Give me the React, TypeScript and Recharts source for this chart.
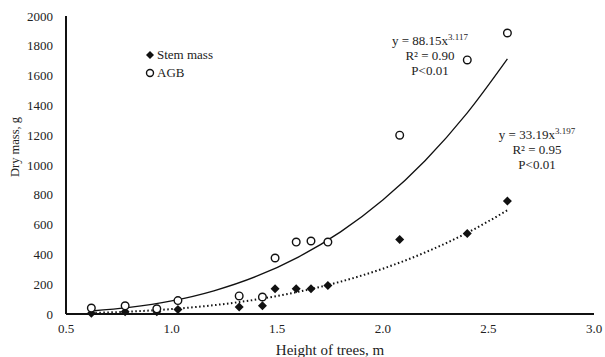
import {
  ComposedChart,
  Line,
  Scatter,
  XAxis,
  YAxis,
} from "recharts";

// measured points, x = tree height (m), y = dry mass (g)
const heights = [0.62, 0.78, 0.93, 1.03, 1.32, 1.43, 1.49, 1.59, 1.66, 1.74, 2.08, 2.4, 2.59];
const stemMass = [5, 15, 15, 30, 47, 56, 170, 170, 170, 192, 500, 541, 758];
const agbMass = [40, 55, 35, 90, 121, 114, 376, 483, 490, 483, 1200, 1705, 1886];

// power trend lines at a few heights
const fitHeights = [0.62, 0.8, 1.0, 1.2, 1.4, 1.6, 1.8, 2.0, 2.2, 2.4, 2.59];
const agbFit = [20, 44, 88, 156, 252, 382, 551, 765, 1029, 1350, 1712];
const stemFit = [7, 16, 33, 59, 97, 149, 217, 304, 413, 545, 696];

const xTicks = [0.5, 1.0, 1.5, 2.0, 2.5, 3.0];
const yTicks = [0, 200, 400, 600, 800, 1000, 1200, 1400, 1600, 1800, 2000];

const stemData = heights.map((x, i) => ({ x, y: stemMass[i] }));
const agbData = heights.map((x, i) => ({ x, y: agbMass[i] }));
const agbFitData = fitHeights.map((x, i) => ({ x, y: agbFit[i] }));
const stemFitData = fitHeights.map((x, i) => ({ x, y: stemFit[i] }));

const font = "'Liberation Serif', 'Times New Roman', serif";
const ink = "#222";

const Diamond = (p: any) => (
  <path
    d={`M${p.cx},${p.cy - 4.5} L${p.cx + 4.5},${p.cy} L${p.cx},${p.cy + 4.5} L${p.cx - 4.5},${p.cy} Z`}
    fill="#111"
  />
);

const Ring = (p: any) => (
  <circle cx={p.cx} cy={p.cy} r={3.8} fill="#fff" stroke="#111" strokeWidth={1.4} />
);

function LegendBox() {
  return (
    <div
      style={{
        position: "absolute",
        left: 145,
        top: 46,
        fontFamily: font,
        fontSize: 13,
        color: ink,
        lineHeight: "18px",
      }}
    >
      <div style={{ display: "flex", alignItems: "center" }}>
        <svg width={10} height={10} style={{ marginRight: 2 }}>
          <path d="M5,1 L9,5 L5,9 L1,5 Z" fill="#111" />
        </svg>
        Stem mass
      </div>
      <div style={{ display: "flex", alignItems: "center" }}>
        <svg width={10} height={10} style={{ marginRight: 2 }}>
          <circle cx={5} cy={5} r={3.5} fill="#fff" stroke="#111" strokeWidth={1.4} />
        </svg>
        AGB
      </div>
    </div>
  );
}

const noteStyle: React.CSSProperties = {
  position: "absolute",
  fontFamily: font,
  fontSize: 13,
  color: ink,
  textAlign: "center",
  lineHeight: "15px",
  width: 120,
};

export default function App() {
  return (
    <div style={{ position: "absolute", left: 0, top: 0, width: 605, height: 357, background: "#fff" }}>
      <ComposedChart
        width={605}
        height={357}
        margin={{ top: 16, right: 11, left: 0, bottom: 0 }}
      >
        <XAxis
          type="number"
          dataKey="x"
          domain={[0.5, 3]}
          ticks={xTicks}
          tickFormatter={(v: number) => v.toFixed(1)}
          tick={{ fontSize: 13, fill: ink, fontFamily: font }}
          tickLine={false}
          tickSize={0}
          tickMargin={10}
          axisLine={{ stroke: "#111", strokeWidth: 2 }}
          height={43}
          label={{
            value: "Height of trees, m",
            position: "insideBottom",
            offset: 2,
            style: { fontSize: 15, fill: ink, fontFamily: font },
          }}
        />
        <YAxis
          type="number"
          dataKey="y"
          domain={[0, 2000]}
          ticks={yTicks}
          tick={{ fontSize: 13, fill: ink, fontFamily: font }}
          tickLine={false}
          tickSize={0}
          tickMargin={13}
          axisLine={{ stroke: "#111", strokeWidth: 2 }}
          width={66}
        />
        <Line
          data={agbFitData}
          dataKey="y"
          type="monotone"
          stroke="#111"
          strokeWidth={1.3}
          dot={false}
          activeDot={false}
          legendType="none"
          isAnimationActive={false}
        />
        <Line
          data={stemFitData}
          dataKey="y"
          type="monotone"
          stroke="#111"
          strokeWidth={2}
          strokeDasharray="1.5 2.5"
          dot={false}
          activeDot={false}
          legendType="none"
          isAnimationActive={false}
        />
        <Scatter name="Stem mass" data={stemData} shape={Diamond} isAnimationActive={false} />
        <Scatter name="AGB" data={agbData} shape={Ring} isAnimationActive={false} />
      </ComposedChart>
      <svg width={30} height={357} style={{ position: "absolute", left: 0, top: 0 }}>
        <text
          x={15}
          y={147}
          transform="rotate(-90 15 147)"
          textAnchor="middle"
          dominantBaseline="central"
          fontFamily={font}
          fontSize={12.5}
          fill={ink}
        >
          Dry mass, g
        </text>
      </svg>
      <LegendBox />
      <div style={{ ...noteStyle, left: 370, top: 30 }}>
        y = 88.15x<sup style={{ fontSize: 9 }}>3.117</sup>
        <br />R² = 0.90
        <br />P&lt;0.01
      </div>
      <div style={{ ...noteStyle, left: 477, top: 124 }}>
        y = 33.19x<sup style={{ fontSize: 9 }}>3.197</sup>
        <br />R² = 0.95
        <br />P&lt;0.01
      </div>
    </div>
  );
}
